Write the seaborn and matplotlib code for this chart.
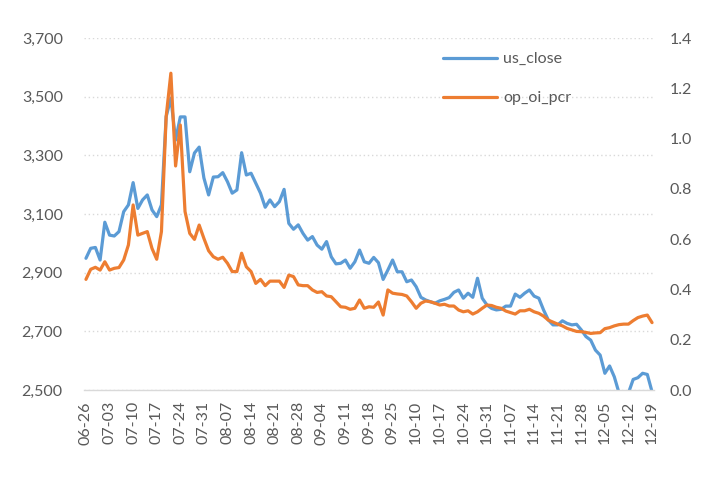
import numpy as np
import pandas as pd
import matplotlib
matplotlib.use("Agg")
import matplotlib.pyplot as plt
import seaborn as sns
from matplotlib.ticker import FuncFormatter, FixedLocator

# trading days (China A-share calendar, 2023), holidays removed
holidays = ["2023-09-29", "2023-10-02", "2023-10-03", "2023-10-04", "2023-10-05", "2023-10-06"]
days = pd.bdate_range("2023-06-26", "2023-12-19")
days = days[~days.isin(pd.to_datetime(holidays))]
dates = [d.strftime("%m-%d") for d in days]

us_close = [2949, 2983, 2986, 2943, 3072, 3028, 3025, 3040, 3108, 3131,
            3207, 3119, 3148, 3165, 3114, 3091, 3131, 3432, 3495, 3352,
            3431, 3431, 3244, 3308, 3328, 3223, 3165, 3226, 3227, 3241,
            3210, 3171, 3182, 3309, 3233, 3239, 3205, 3171, 3123, 3148,
            3125, 3142, 3184, 3068, 3048, 3063, 3034, 3011, 3023, 2994,
            2980, 3006, 2954, 2930, 2932, 2943, 2915, 2937, 2977, 2937,
            2932, 2952, 2934, 2877, 2909, 2943, 2903, 2903, 2869, 2875,
            2852, 2816, 2807, 2801, 2796, 2804, 2809, 2815, 2833, 2841,
            2813, 2830, 2816, 2881, 2813, 2790, 2778, 2773, 2775, 2786,
            2786, 2827, 2816, 2830, 2841, 2820, 2813, 2773, 2739, 2722,
            2722, 2736, 2727, 2722, 2724, 2705, 2682, 2670, 2636, 2619,
            2557, 2582, 2545, 2490, 2470, 2490, 2536, 2542, 2557, 2553,
            2494]

op_oi_pcr = [0.44, 0.48, 0.488, 0.477, 0.51, 0.477, 0.484, 0.487, 0.517, 0.577,
             0.736, 0.616, 0.623, 0.63, 0.563, 0.52, 0.63, 1.087, 1.26, 0.891,
             1.054, 0.71, 0.623, 0.599, 0.656, 0.603, 0.554, 0.53, 0.52, 0.528,
             0.504, 0.471, 0.471, 0.544, 0.49, 0.471, 0.424, 0.44, 0.415, 0.433,
             0.433, 0.433, 0.408, 0.457, 0.451, 0.418, 0.415, 0.415, 0.398, 0.388,
             0.391, 0.374, 0.371, 0.351, 0.331, 0.329, 0.321, 0.325, 0.358, 0.325,
             0.331, 0.329, 0.35, 0.298, 0.398, 0.385, 0.382, 0.38, 0.374, 0.351,
             0.325, 0.345, 0.354, 0.351, 0.345, 0.338, 0.341, 0.334, 0.334, 0.318,
             0.311, 0.315, 0.302, 0.311, 0.325, 0.338, 0.336, 0.329, 0.325, 0.314,
             0.308, 0.302, 0.315, 0.315, 0.321, 0.311, 0.305, 0.294, 0.278, 0.27,
             0.262, 0.255, 0.245, 0.239, 0.233, 0.232, 0.229, 0.225, 0.227, 0.228,
             0.244, 0.248, 0.255, 0.26, 0.262, 0.262, 0.276, 0.288, 0.294, 0.298,
             0.268]

df = pd.DataFrame({"pos": np.arange(len(dates)), "date": dates,
                   "us_close": us_close, "op_oi_pcr": op_oi_pcr})

sns.set_style("white")
plt.rcParams["font.family"] = ["Lato", "DejaVu Sans"]
grey = "#595959"
fs = 11.5

fig, ax = plt.subplots(figsize=(7.16, 4.93), dpi=100)
fig.subplots_adjust(left=83.6 / 716, right=654.4 / 716, top=1 - 38 / 493, bottom=1 - 390 / 493)
ax2 = ax.twinx()

sns.lineplot(data=df, x="pos", y="us_close", ax=ax, color="#5B9BD5", linewidth=2.3, label="us_close", legend=False)
sns.lineplot(data=df, x="pos", y="op_oi_pcr", ax=ax2, color="#ED7D31", linewidth=2.3, label="op_oi_pcr", legend=False)

ax.set_xlim(-0.5, len(dates) - 0.5)
ax.set_ylim(2500, 3700)
ax.set_yticks(np.arange(2500, 3701, 200))
ax.yaxis.set_major_formatter(FuncFormatter(lambda v, p: f"{v:,.0f}"))
ax2.set_ylim(0, 1.4)
ax2.set_yticks(np.arange(0, 1.41, 0.2))
ax2.yaxis.set_major_formatter(FuncFormatter(lambda v, p: f"{v:.1f}"))

ax.set_xticks(df["pos"][::5])
ax.set_xticklabels(dates[::5], rotation=90)
ax.xaxis.set_minor_locator(FixedLocator(np.arange(-0.5, len(dates), 1)))

for a in (ax, ax2):
    for s in a.spines.values():
        s.set_visible(False)
    a.set_xlabel("")
    a.set_ylabel("")
ax.spines["bottom"].set_visible(True)
ax.spines["bottom"].set_color("#d9d9d9")
ax.spines["bottom"].set_linewidth(1.0)

ax.grid(axis="y", color="#d9d9d9", linestyle=(0, (1, 2)), linewidth=1.0)
ax.grid(axis="x", visible=False)
ax2.grid(False)

ax.tick_params(axis="y", length=0, pad=15, labelsize=fs, labelcolor=grey)
ax2.tick_params(axis="y", length=0, pad=11, labelsize=fs, labelcolor=grey)
ax.tick_params(axis="x", which="major", length=0, pad=8, labelsize=fs, labelcolor=grey)
ax.tick_params(axis="x", which="minor", length=3, width=0.8, color="#d9d9d9", direction="out")

h1, l1 = ax.get_legend_handles_labels()
h2, l2 = ax2.get_legend_handles_labels()
ax2.legend(h1 + h2, l1 + l2, loc="upper left", bbox_to_anchor=(443 / 716, 1 - 52 / 493),
           bbox_transform=fig.transFigure, frameon=False, fontsize=fs,
           handlelength=3.4, handletextpad=0.35, labelspacing=1.55, borderpad=0, borderaxespad=0,
           labelcolor=grey)

fig.savefig("out.png", dpi=100)
